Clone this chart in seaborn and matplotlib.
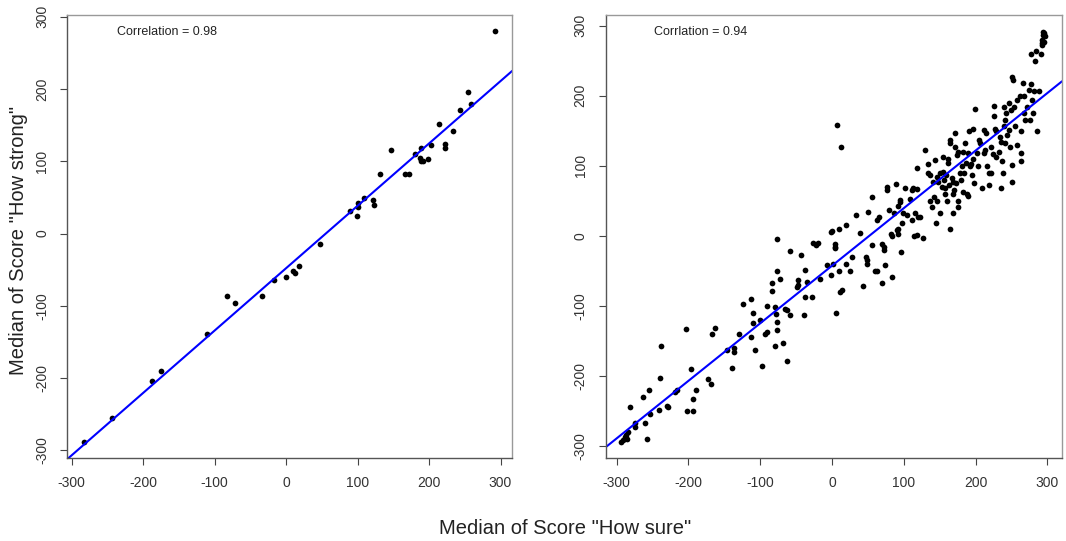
import pandas as pd
import matplotlib.pyplot as plt
import seaborn as sns

# left panel: median scores per item
left_x = [292, 254, 259, 243, 214, 234, 203, 222, 222, 189,
          180, 147, 188, 191, 189, 198, 132, 166, 172, 109,
          122, 123, 100, 101, 90, 99, 47, 18, 10, 13,
          0, -17, -33, -83, -71, -110, -175, -187, -244, -283]
left_y = [281, 196, 180, 171, 151, 142, 123, 124, 119, 119,
          110, 115, 104, 101, 100, 103, 83, 83, 83, 49,
          47, 39, 43, 37, 31, 25, -14, -45, -52, -54,
          -60, -64, -87, -86, -96, -139, -190, -204, -255, -289]

# right panel
right_x = [-294, -291, -288, -286, -284, -287, -281, -275, -274, -264,
           -261, -258, -255, -253, -241, -239, -238, -230, -229, -219,
           -216, -204, -202, -196, -194, -193, -190, -173, -169, -167,
           -163, -147, -139, -136, -136, -130, -124, -113, -113, -110,
           -110, -108, -101, -98, -93, -91, -91, -83, -83, -79,
           -78, -77, -80, -76, -76, -76, -72, -69, -66, -63,
           -63, -58, -59, -49, -48, -47, -43, -39, -38, -37,
           -35, -28, -26, -23, -20, -17, -7, -2, -1, 0,
           2, 4, 4, 4, 5, 7, 9, 9, 12, 11,
           14, 19, 20, 25, 28, 33, 39, 43, 47, 48,
           48, 50, 55, 56, 60, 63, 63, 65, 70, 69,
           72, 72, 74, 76, 77, 80, 82, 83, 84, 86,
           89, 90, 92, 92, 92, 94, 95, 96, 98, 99,
           102, 104, 109, 111, 111, 113, 114, 116, 118, 118,
           118, 120, 123, 126, 130, 133, 134, 137, 137, 139,
           141, 142, 143, 145, 146, 146, 147, 150, 150, 153,
           155, 155, 156, 157, 157, 159, 160, 161, 162, 163,
           164, 164, 165, 167, 168, 168, 169, 170, 171, 171,
           173, 174, 175, 176, 176, 178, 179, 181, 182, 183,
           184, 185, 187, 188, 189, 190, 191, 192, 194, 195,
           196, 197, 198, 199, 202, 204, 205, 206, 209, 211,
           212, 213, 215, 216, 218, 219, 221, 222, 224, 225,
           226, 227, 228, 229, 232, 234, 235, 236, 237, 238,
           239, 240, 241, 241, 243, 244, 246, 247, 248, 249,
           250, 250, 251, 252, 253, 255, 257, 258, 262, 263,
           263, 263, 266, 267, 268, 269, 271, 274, 276, 277,
           277, 278, 280, 281, 283, 284, 286, 288, 291, 292,
           293, 294, 294, 295, 296, 292, 295]
right_y = [-295, -292, -287, -291, -280, -285, -245, -267, -273, -231,
           -268, -291, -220, -255, -249, -203, -158, -243, -245, -224,
           -221, -134, -250, -190, -234, -250, -221, -205, -212, -140,
           -132, -164, -189, -160, -166, -141, -98, -91, -145, -111,
           -125, -164, -121, -186, -140, -100, -138, -79, -67, -102,
           -112, -124, -157, -135, -50, -5, -62, -154, -105, -179,
           -106, -113, -22, -73, -70, -64, -27, -113, -87, -49,
           -66, -88, -10, -13, -11, -62, -42, -56, 5, 7,
           -41, -16, -12, -18, -111, 158, -50, 9, 127, -80,
           -77, -40, 15, -50, -30, 29, 4, -72, -31, -41,
           -35, 34, 55, -13, -50, -51, 23, 27, -68, -12,
           -16, -20, -42, 65, 70, 36, 3, 0, -59, 32,
           74, 8, 3, 10, 42, 48, 51, -24, 18, 32,
           68, 30, 52, 65, 22, 68, 0, 32, 66, 96,
           1, 27, 26, -3, 122, 103, 90, 87, 49, 41,
           76, 55, 108, 18, 84, 49, 77, 33, 89, 70,
           113, 91, 80, 68, 60, 87, 50, 109, 104, 72,
           10, 137, 133, 82, 76, 60, 32, 65, 146, 127,
           75, 115, 49, 41, 120, 89, 80, 100, 63, 120,
           89, 132, 104, 60, 57, 118, 149, 99, 103, 87,
           153, 109, 75, 181, 118, 99, 137, 132, 68, 151,
           118, 122, 146, 99, 72, 89, 90, 127, 117, 185,
           171, 152, 113, 149, 120, 141, 134, 68, 106, 89,
           184, 156, 165, 132, 175, 144, 151, 189, 127, 180,
           77, 101, 227, 222, 184, 156, 194, 130, 199, 149,
           118, 107, 218, 199, 175, 165, 184, 208, 165, 217,
           260, 194, 175, 207, 249, 264, 150, 206, 260, 275,
           280, 287, 291, 289, 285, 272, 277]

labels = ["Correlation = 0.98", "Corrlation = 0.94"]
ticks = [-300, -200, -100, 0, 100, 200, 300]

sns.set_theme(style="ticks")
plt.rcParams["font.family"] = ["Liberation Sans", "DejaVu Sans"]
plt.rcParams["axes.unicode_minus"] = False

fig = plt.figure(figsize=(10.66, 5.41), dpi=100)
ax1 = fig.add_axes([0.0631, 0.1529, 0.4175, 0.820])
ax2 = fig.add_axes([0.5682, 0.1529, 0.4281, 0.820])

panels = [(ax1, left_x, left_y, (-306, 316.5), (-311, 303)),
          (ax2, right_x, right_y, (-315.3, 320.4), (-318, 315.7))]

for i, (ax, xs, ys, xl, yl) in enumerate(panels):
    df = pd.DataFrame({"sure": xs, "strong": ys})
    ax.set_xlim(xl)
    ax.set_ylim(yl)
    sns.scatterplot(x="sure", y="strong", data=df, ax=ax, color="black",
                    s=17, linewidth=0, legend=False)
    # fitted line across the whole panel
    sns.regplot(x="sure", y="strong", data=df, ax=ax, scatter=False, ci=None,
                truncate=False, color="blue", line_kws={"linewidth": 1.5})
    ax.set_xlim(xl)
    ax.set_ylim(yl)
    ax.set_xticks(ticks)
    ax.set_yticks(ticks)
    ax.set_xlabel("")
    ax.set_ylabel("")
    ax.tick_params(axis="both", direction="out", length=5, width=0.8,
                   colors="#444444", labelsize=10, pad=8, labelcolor="#333333")
    ax.tick_params(axis="y", labelrotation=90)
    for lab in ax.get_yticklabels():
        lab.set_va("center")
    for side in ["left", "bottom"]:
        ax.spines[side].set_color("#555555")
    for side in ["top", "right"]:
        ax.spines[side].set_color("#999999")
    for sp in ax.spines.values():
        sp.set_linewidth(1.0)
    ax.text([0.223, 0.207][i], 0.961, labels[i], transform=ax.transAxes,
            ha="center", va="center", fontsize=9, color="#222222")

fig.text(0.017, 0.556, 'Median of Score "How strong"', rotation=90,
         ha="center", va="center", fontsize=14.5, color="#222222")
fig.text(0.530, 0.024, 'Median of Score "How sure"', ha="center", va="center",
         fontsize=14.5, color="#222222")

plt.savefig("out.png", dpi=100)
